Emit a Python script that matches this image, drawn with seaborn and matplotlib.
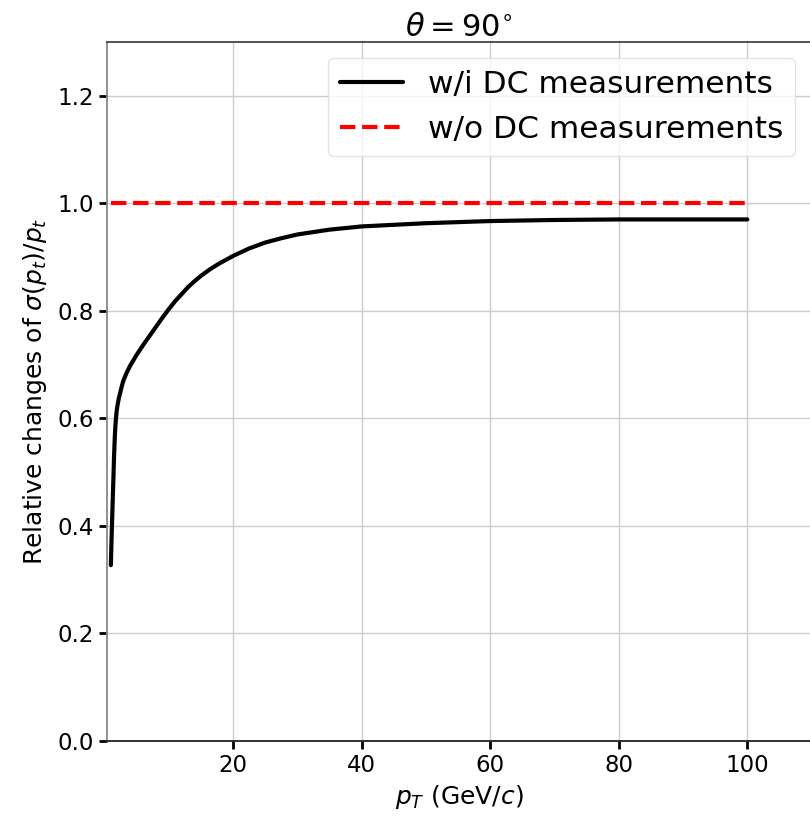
import matplotlib
matplotlib.use("Agg")
import matplotlib.pyplot as plt
import seaborn as sns
import pandas as pd

# data
pt = [1.0, 1.1, 1.2, 1.3, 1.4, 1.5, 1.6, 1.7, 1.8, 1.9, 2.0, 2.25, 2.5,
      2.75, 3.0, 3.5, 4.0, 4.5, 5.0, 6.0, 7.0, 8.0, 9.0, 10.0, 11.0, 12.0,
      13.0, 14.0, 15.0, 16.5, 18.0, 20.0, 22.5, 25.0, 27.5, 30.0, 35.0,
      40.0, 45.0, 50.0, 60.0, 70.0, 80.0, 90.0, 100.0]
with_dc = [0.327, 0.372, 0.412, 0.452, 0.490, 0.530, 0.562, 0.585, 0.601,
           0.613, 0.622, 0.638, 0.650, 0.662, 0.672, 0.686, 0.698, 0.708,
           0.718, 0.736, 0.753, 0.770, 0.787, 0.803, 0.818, 0.831, 0.844,
           0.855, 0.865, 0.878, 0.889, 0.902, 0.916, 0.927, 0.935, 0.942,
           0.951, 0.957, 0.960, 0.963, 0.967, 0.969, 0.970, 0.970, 0.970]
pt_ref = [1.0, 100.0]
without_dc = [1.0, 1.0]
labels = ["w/i DC measurements", "w/o DC measurements"]
xticks = [20, 40, 60, 80, 100]
yticks = [0.0, 0.2, 0.4, 0.6, 0.8, 1.0, 1.2]

sns.set_style("ticks")
plt.rcParams['font.family'] = ['DejaVu Sans']
plt.rcParams['text.color'] = 'black'
plt.rcParams['axes.labelcolor'] = 'black'

df1 = pd.DataFrame({"pt": pt, "val": with_dc})
df2 = pd.DataFrame({"pt": pt_ref, "val": without_dc})

fig = plt.figure(figsize=(8.1, 8.18), dpi=100)
ax = fig.add_axes([107 / 810, 77 / 818, 704 / 810, 699 / 818])

sns.lineplot(data=df1, x="pt", y="val", ax=ax, color="black", lw=3,
             label=labels[0], estimator=None, sort=False)
sns.lineplot(data=df2, x="pt", y="val", ax=ax, color="red", lw=3,
             linestyle="--", label=labels[1], estimator=None, sort=False)

ax.set_xlim(0.4, 109.9)
ax.set_ylim(0, 1.3)
ax.set_xticks(xticks)
ax.set_xticklabels([str(t) for t in xticks])
ax.set_yticks(yticks)
ax.set_yticklabels([f"{t:.1f}" for t in yticks])
ax.grid(True, color="#cccccc", lw=1)
ax.set_axisbelow(True)

ax.tick_params(axis="both", labelsize=16.5, length=6, width=2,
               color="black", labelcolor="black")
ax.spines["left"].set_color("#888888")
ax.spines["bottom"].set_color("#222222")
ax.spines["top"].set_color("#444444")
ax.spines["right"].set_visible(False)
for s in ax.spines.values():
    s.set_linewidth(1.3)

ax.set_xlabel("$p_T$ (GeV/$c$)", fontsize=18, color="black", labelpad=4)
ax.set_ylabel(r"Relative changes of $\sigma(p_t)/p_t$", fontsize=18,
              color="black", labelpad=6)
ax.set_title(r"$\theta = 90^{\circ}$", fontsize=22, color="black", pad=1)

leg = ax.legend(loc="upper right", fontsize=22.5, frameon=True,
                fancybox=True, framealpha=0.8, edgecolor="#dddddd")
for t in leg.get_texts():
    t.set_color("black")

fig.savefig("out.png", dpi=100)
